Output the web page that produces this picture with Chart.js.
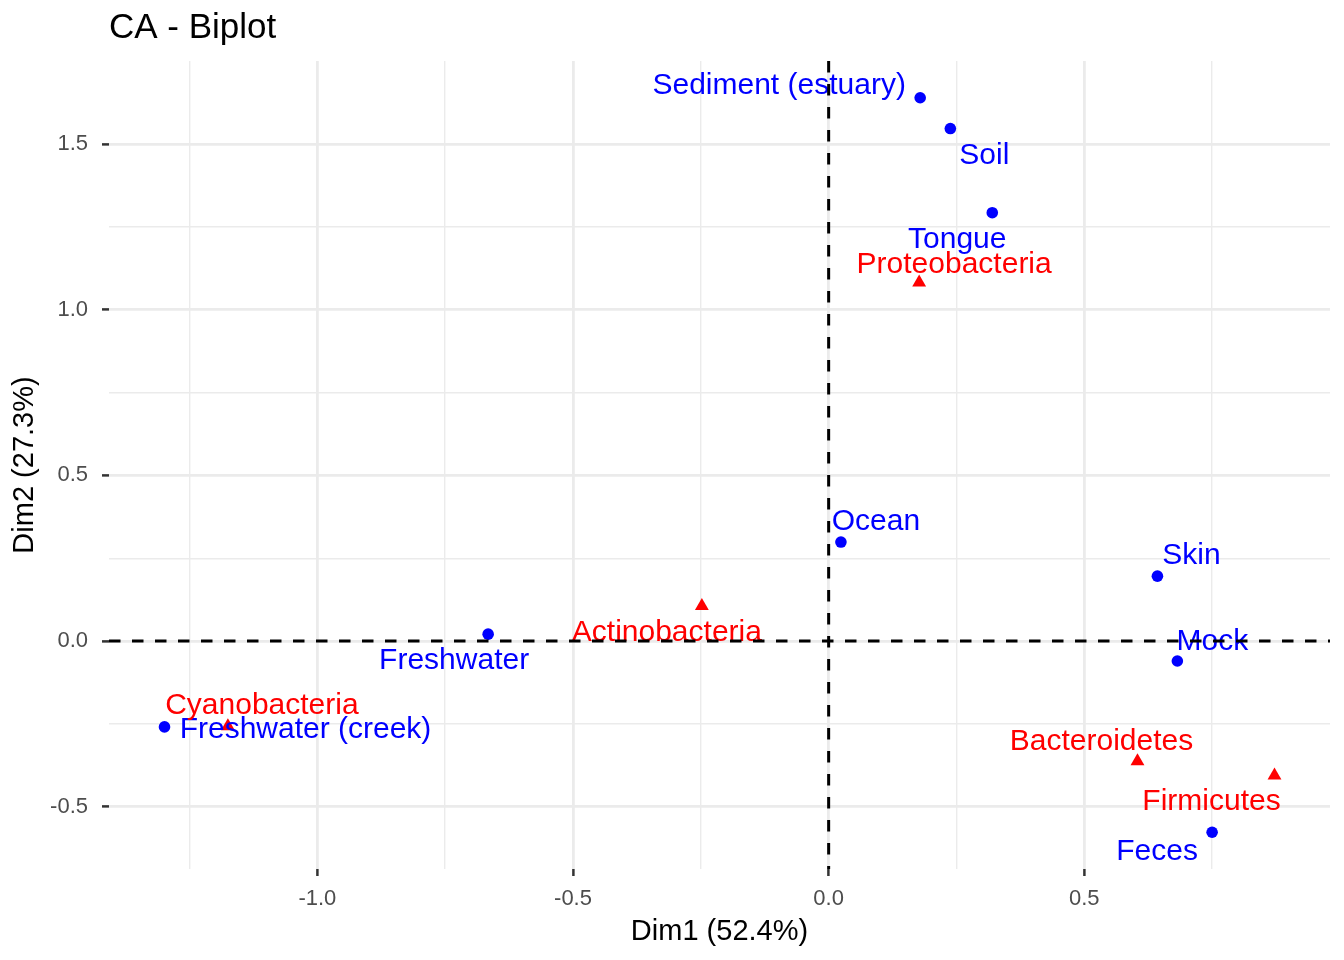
<!DOCTYPE html>
<html>
<head>
<meta charset="utf-8">
<script src="https://cdn.jsdelivr.net/npm/chart.js@4.4.1/dist/chart.umd.min.js"></script>
<style>
  html, body { margin: 0; padding: 0; background: #ffffff; }
  #wrap { width: 1344px; height: 960px; }
</style>
</head>
<body>
<div id="wrap"><canvas id="c" width="1344" height="960"></canvas></div>
<script>
// ---- data ----
const colNames = ["Sediment (estuary)", "Soil", "Tongue", "Ocean", "Skin", "Mock", "Feces", "Freshwater", "Freshwater (creek)"];
const colDim1 = [0.179, 0.238, 0.320, 0.024, 0.643, 0.682, 0.750, -0.666, -1.299];
const colDim2 = [1.640, 1.547, 1.293, 0.299, 0.196, -0.060, -0.577, 0.021, -0.259];

const rowNames = ["Proteobacteria", "Actinobacteria", "Cyanobacteria", "Bacteroidetes", "Firmicutes"];
const rowDim1 = [0.177, -0.248, -1.175, 0.604, 0.872];
const rowDim2 = [1.082, 0.106, -0.257, -0.3625, -0.406];

const xMajorTicks = [-1.0, -0.5, 0.0, 0.5];
const xTickLabels = ["-1.0", "-0.5", "0.0", "0.5"];
const xMinorTicks = [-1.25, -0.75, -0.25, 0.25, 0.75];
const yMajorTicks = [-0.5, 0.0, 0.5, 1.0, 1.5];
const yTickLabels = ["-0.5", "0.0", "0.5", "1.0", "1.5"];
const yMinorTicks = [-0.25, 0.25, 0.75, 1.25];

const titleText = "CA - Biplot";
const xTitle = "Dim1 (52.4%)";
const yTitle = "Dim2 (27.3%)";

// ---- label placement nudges (pixels: dx to text centre, dy to baseline) ----
const colLabelNudge = [[-141, -4], [34, 35], [-35, 35], [35, -12], [34, -12], [35, -11], [-55, 28], [-34, 35], [141, 11]];
const rowLabelNudge = [[35, -10], [-35, 35], [34, -12], [-36, -11], [-63, 34]];

// ---- styles ----
const BLUE = "#0000FF", RED = "#FF0000";
const FONT = "'Liberation Sans', Arial, Helvetica, sans-serif";

// axis limits: ggplot-style 5% expansion of the data range
function expand(arr) {
  const mn = Math.min(...arr), mx = Math.max(...arr), r = mx - mn;
  return [mn - 0.05 * r, mx + 0.05 * r];
}
const [xMin, xMax] = expand(colDim1.concat(rowDim1));
const [yMin, yMax] = expand(colDim2.concat(rowDim2));

const near = (a, v) => a.some(t => Math.abs(t - v) < 1e-9);

function tickSetter(major, minor) {
  return function (scale) {
    scale.ticks = major.concat(minor).sort((a, b) => a - b).map(v => ({ value: v }));
  };
}
function labelFor(major, labels) {
  return function (value) {
    const i = major.findIndex(t => Math.abs(t - value) < 1e-9);
    return i >= 0 ? labels[i] : "";
  };
}

const labelPlugin = {
  id: "biplotLabels",
  afterDatasetsDraw(chart) {
    const ctx = chart.ctx;
    ctx.save();
    ctx.font = "30px " + FONT;
    ctx.textAlign = "center";
    ctx.textBaseline = "alphabetic";
    const sets = [
      { meta: chart.getDatasetMeta(0), names: colNames, nudge: colLabelNudge, color: BLUE },
      { meta: chart.getDatasetMeta(1), names: rowNames, nudge: rowLabelNudge, color: RED }
    ];
    sets.forEach(s => {
      ctx.fillStyle = s.color;
      s.meta.data.forEach((el, i) => {
        ctx.fillText(s.names[i], el.x + s.nudge[i][0], el.y + s.nudge[i][1]);
      });
    });
    // dashed reference lines at 0, drawn on top
    const area = chart.chartArea;
    const x0 = chart.scales.x.getPixelForValue(0);
    const y0 = chart.scales.y.getPixelForValue(0);
    ctx.strokeStyle = "#000000";
    ctx.lineWidth = 3;
    ctx.setLineDash([11.5, 11.5]);
    ctx.beginPath();
    ctx.moveTo(area.left, y0); ctx.lineTo(area.right, y0);
    ctx.stroke();
    ctx.beginPath();
    ctx.moveTo(x0, area.top); ctx.lineTo(x0, area.bottom);
    ctx.stroke();
    ctx.restore();
  }
};

const gridOpts = (major) => ({
  drawOnChartArea: true,
  drawTicks: true,
  tickLength: 7,
  color: "#EBEBEB",
  lineWidth: (c) => (c.tick && near(major, c.tick.value)) ? 2.8 : 1.4,
  tickColor: (c) => (c.tick && near(major, c.tick.value)) ? "#333333" : "rgba(0,0,0,0)",
  tickWidth: 2.5
});

new Chart(document.getElementById("c"), {
  type: "scatter",
  data: {
    datasets: [
      {
        label: "columns",
        data: colDim1.map((x, i) => ({ x: x, y: colDim2[i] })),
        pointStyle: "circle",
        pointRadius: 5.8,
        pointBackgroundColor: BLUE,
        pointBorderColor: BLUE,
        pointBorderWidth: 0
      },
      {
        label: "rows",
        data: rowDim1.map((x, i) => ({ x: x, y: rowDim2[i] })),
        pointStyle: "triangle",
        pointRadius: 8,
        pointBackgroundColor: RED,
        pointBorderColor: RED,
        pointBorderWidth: 0
      }
    ]
  },
  options: {
    responsive: false,
    animation: false,
    devicePixelRatio: 1,
    layout: { padding: { left: 0, right: 14, top: 0, bottom: 0 } },
    plugins: {
      legend: { display: false },
      tooltip: { enabled: false },
      title: {
        display: true,
        text: titleText,
        align: "start",
        fullSize: false,
        color: "#000000",
        font: { family: FONT, size: 35, weight: "normal", lineHeight: 1.2 },
        padding: { top: 7, bottom: 12 }
      }
    },
    scales: {
      x: {
        type: "linear",
        min: xMin,
        max: xMax,
        afterBuildTicks: tickSetter(xMajorTicks, xMinorTicks),
        afterFit: (s) => { s.height = 91; },
        border: { display: false },
        grid: gridOpts(xMajorTicks),
        ticks: {
          callback: labelFor(xMajorTicks, xTickLabels),
          autoSkip: false,
          maxRotation: 0,
          padding: 10,
          color: "#4D4D4D",
          font: { family: FONT, size: 22, lineHeight: 1.2 }
        },
        title: {
          display: true,
          text: xTitle,
          color: "#000000",
          font: { family: FONT, size: 29, lineHeight: 1.2 },
          padding: { top: 0, bottom: 11 }
        }
      },
      y: {
        type: "linear",
        min: yMin,
        max: yMax,
        afterBuildTicks: tickSetter(yMajorTicks, yMinorTicks),
        afterFit: (s) => { s.width = 109; },
        border: { display: false },
        grid: gridOpts(yMajorTicks),
        ticks: {
          callback: labelFor(yMajorTicks, yTickLabels),
          autoSkip: false,
          padding: 14,
          color: "#4D4D4D",
          font: { family: FONT, size: 22, lineHeight: 1.2 }
        },
        title: {
          display: true,
          text: yTitle,
          color: "#000000",
          font: { family: FONT, size: 29, lineHeight: 1.2 },
          padding: { top: 7.5, bottom: 0 }
        }
      }
    }
  },
  plugins: [labelPlugin]
});
</script>
</body>
</html>
